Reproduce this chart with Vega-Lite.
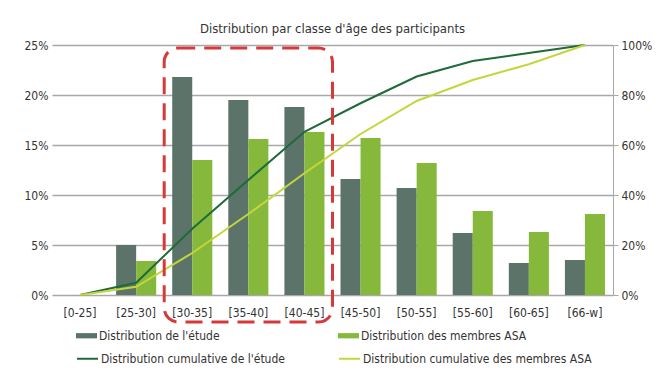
{
  "$schema": "https://vega.github.io/schema/vega-lite/v6.json",
  "width": 561,
  "height": 250,
  "autosize": {"type": "none"},
  "padding": {"left": 52, "top": 45, "right": 56, "bottom": 80},
  "background": "white",
  "config": {
    "font": "Liberation Sans Narrow, DejaVu Sans Condensed, sans-serif",
    "view": {"stroke": null},
    "axis": {"labelColor": "#333333", "labelFontSize": 12, "title": null, "gridColor": "#a8a8a8", "gridWidth": 1.3, "domainColor": "#a8a8a8", "tickColor": "#a8a8a8"},
    "legend": {"labelColor": "#333333", "labelFontSize": 12, "title": null, "labelLimit": 400}
  },
  "title": {"text": "Distribution par classe d'âge des participants", "fontSize": 13, "fontWeight": "normal", "color": "#333333", "anchor": "middle", "offset": 3},
  "datasets": {
    "barres": [
      {"classe": "[0-25]", "serie": "Distribution de l'étude", "valeur": 0},
      {"classe": "[25-30]", "serie": "Distribution de l'étude", "valeur": 5.0},
      {"classe": "[30-35]", "serie": "Distribution de l'étude", "valeur": 21.8},
      {"classe": "[35-40]", "serie": "Distribution de l'étude", "valeur": 19.5},
      {"classe": "[40-45]", "serie": "Distribution de l'étude", "valeur": 18.8},
      {"classe": "[45-50]", "serie": "Distribution de l'étude", "valeur": 11.6},
      {"classe": "[50-55]", "serie": "Distribution de l'étude", "valeur": 10.7},
      {"classe": "[55-60]", "serie": "Distribution de l'étude", "valeur": 6.2},
      {"classe": "[60-65]", "serie": "Distribution de l'étude", "valeur": 3.2},
      {"classe": "[66-w]", "serie": "Distribution de l'étude", "valeur": 3.5},
      {"classe": "[0-25]", "serie": "Distribution des membres ASA", "valeur": 0},
      {"classe": "[25-30]", "serie": "Distribution des membres ASA", "valeur": 3.4},
      {"classe": "[30-35]", "serie": "Distribution des membres ASA", "valeur": 13.5},
      {"classe": "[35-40]", "serie": "Distribution des membres ASA", "valeur": 15.6},
      {"classe": "[40-45]", "serie": "Distribution des membres ASA", "valeur": 16.3},
      {"classe": "[45-50]", "serie": "Distribution des membres ASA", "valeur": 15.7},
      {"classe": "[50-55]", "serie": "Distribution des membres ASA", "valeur": 13.2},
      {"classe": "[55-60]", "serie": "Distribution des membres ASA", "valeur": 8.4},
      {"classe": "[60-65]", "serie": "Distribution des membres ASA", "valeur": 6.3},
      {"classe": "[66-w]", "serie": "Distribution des membres ASA", "valeur": 8.1}
    ],
    "cumul": [
      {"classe": "[0-25]", "serie": "Distribution cumulative de l'étude", "valeur": 0},
      {"classe": "[25-30]", "serie": "Distribution cumulative de l'étude", "valeur": 4.9},
      {"classe": "[30-35]", "serie": "Distribution cumulative de l'étude", "valeur": 26.5},
      {"classe": "[35-40]", "serie": "Distribution cumulative de l'étude", "valeur": 46.0},
      {"classe": "[40-45]", "serie": "Distribution cumulative de l'étude", "valeur": 65.3},
      {"classe": "[45-50]", "serie": "Distribution cumulative de l'étude", "valeur": 76.7},
      {"classe": "[50-55]", "serie": "Distribution cumulative de l'étude", "valeur": 87.4},
      {"classe": "[55-60]", "serie": "Distribution cumulative de l'étude", "valeur": 93.6},
      {"classe": "[60-65]", "serie": "Distribution cumulative de l'étude", "valeur": 96.8},
      {"classe": "[66-w]", "serie": "Distribution cumulative de l'étude", "valeur": 100},
      {"classe": "[0-25]", "serie": "Distribution cumulative des membres ASA", "valeur": 0},
      {"classe": "[25-30]", "serie": "Distribution cumulative des membres ASA", "valeur": 3.3},
      {"classe": "[30-35]", "serie": "Distribution cumulative des membres ASA", "valeur": 16.8},
      {"classe": "[35-40]", "serie": "Distribution cumulative des membres ASA", "valeur": 32.4},
      {"classe": "[40-45]", "serie": "Distribution cumulative des membres ASA", "valeur": 48.7},
      {"classe": "[45-50]", "serie": "Distribution cumulative des membres ASA", "valeur": 64.4},
      {"classe": "[50-55]", "serie": "Distribution cumulative des membres ASA", "valeur": 77.6},
      {"classe": "[55-60]", "serie": "Distribution cumulative des membres ASA", "valeur": 86.0},
      {"classe": "[60-65]", "serie": "Distribution cumulative des membres ASA", "valeur": 92.3},
      {"classe": "[66-w]", "serie": "Distribution cumulative des membres ASA", "valeur": 100}
    ],
    "zone": [
      {"debut": "[30-35]", "fin": "[40-45]", "bas": -2.7, "haut": 24.7}
    ]
  },
  "layer": [
    {
      "data": {"name": "barres"},
      "mark": {"type": "bar"},
      "encoding": {
        "x": {"field": "classe", "type": "nominal", "sort": null,
              "scale": {"paddingInner": 0, "paddingOuter": 0},
              "axis": {"labelAngle": 0, "domain": false, "ticks": false, "labelPadding": 12, "grid": false}},
        "xOffset": {"field": "serie", "type": "nominal",
                    "scale": {"domain": ["Distribution de l'étude", "Distribution des membres ASA"], "paddingInner": 0, "paddingOuter": 0.4}},
        "y": {"field": "valeur", "type": "quantitative",
              "scale": {"domain": [0, 25], "nice": false},
              "axis": {"orient": "left", "values": [0, 5, 10, 15, 20, 25], "labelExpr": "datum.value + '%'", "domain": false, "ticks": false, "labelPadding": 4, "grid": true}},
        "color": {"field": "serie", "type": "nominal",
                  "scale": {"domain": ["Distribution de l'étude", "Distribution des membres ASA"], "range": ["#5c7369", "#86b83c"]},
                  "legend": {"orient": "none", "legendX": 24, "legendY": 280, "direction": "horizontal", "columns": 2, "columnPadding": 118,
                             "symbolType": "M-1,-0.25H1V0.25H-1Z", "symbolSize": 441, "symbolStrokeWidth": 0, "labelOffset": 2}}
      }
    },
    {
      "data": {"name": "cumul"},
      "mark": {"type": "line", "strokeWidth": 2},
      "encoding": {
        "x": {"field": "classe", "type": "nominal", "sort": null},
        "y": {"field": "valeur", "type": "quantitative",
              "scale": {"domain": [0, 100], "nice": false},
              "axis": {"orient": "right", "values": [0, 20, 40, 60, 80, 100], "labelExpr": "datum.value + '%'", "grid": false, "domain": true, "ticks": true, "tickSize": 5, "labelPadding": 3}},
        "stroke": {"field": "serie", "type": "nominal",
                   "scale": {"domain": ["Distribution cumulative de l'étude", "Distribution cumulative des membres ASA"], "range": ["#1d6b3a", "#c3d63c"]},
                   "legend": {"orient": "none", "legendX": 24, "legendY": 302, "direction": "horizontal", "columns": 2, "columnPadding": 50,
                              "symbolType": "stroke", "symbolSize": 441, "symbolStrokeWidth": 2, "labelOffset": 2}}
      }
    },
    {
      "data": {"name": "zone"},
      "mark": {"type": "rect", "filled": false, "stroke": "#d6393a", "strokeWidth": 3, "strokeDash": [17, 9], "cornerRadius": 14, "clip": false},
      "encoding": {
        "x": {"field": "debut", "type": "nominal", "bandPosition": 0},
        "x2": {"field": "fin", "bandPosition": 1},
        "y": {"field": "bas", "type": "quantitative", "scale": {"domain": [0, 25], "nice": false}, "axis": null},
        "y2": {"field": "haut"}
      }
    }
  ],
  "resolve": {"scale": {"y": "independent", "color": "independent", "stroke": "independent"}}
}
